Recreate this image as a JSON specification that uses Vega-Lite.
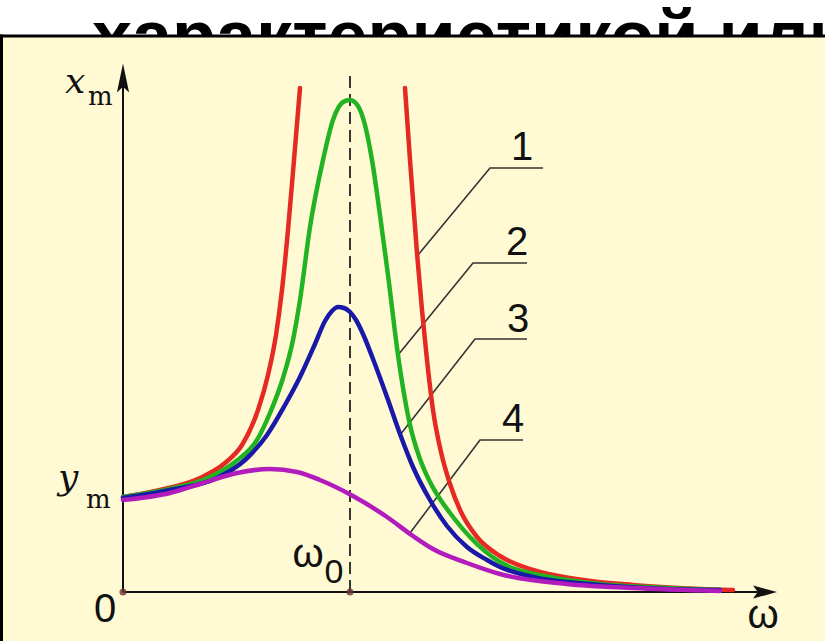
{
  "$schema": "https://vega.github.io/schema/vega-lite/v6.json",
  "width": 825,
  "height": 641,
  "autosize": {"type": "none"},
  "padding": 0,
  "background": "white",
  "config": {"view": {"stroke": null}},
  "datasets": {
    "title": [{"t": "характеристикой или", "omega": -31, "amp": 531}],
    "panel": [{"x1": -121, "x2": 702, "y1": 556, "y2": -49}],
    "border": [
      {"id": "top", "omega": -121.5, "amp": 556},
      {"id": "top", "omega": 700.5, "amp": 556},
      {"id": "left", "omega": -121.5, "amp": 556},
      {"id": "left", "omega": -121.5, "amp": -49}
    ],
    "curves": [
      {"curve": "1", "seg": "1a", "omega": 0, "amp": 95},
      {"curve": "1", "seg": "1a", "omega": 37, "amp": 102},
      {"curve": "1", "seg": "1a", "omega": 77, "amp": 114},
      {"curve": "1", "seg": "1a", "omega": 102, "amp": 129},
      {"curve": "1", "seg": "1a", "omega": 119, "amp": 147},
      {"curve": "1", "seg": "1a", "omega": 135, "amp": 182},
      {"curve": "1", "seg": "1a", "omega": 145, "amp": 217},
      {"curve": "1", "seg": "1a", "omega": 153, "amp": 257},
      {"curve": "1", "seg": "1a", "omega": 159, "amp": 302},
      {"curve": "1", "seg": "1a", "omega": 165, "amp": 362},
      {"curve": "1", "seg": "1a", "omega": 171, "amp": 432},
      {"curve": "1", "seg": "1a", "omega": 177, "amp": 504},
      {"curve": "1", "seg": "1b", "omega": 282, "amp": 504},
      {"curve": "1", "seg": "1b", "omega": 287, "amp": 432},
      {"curve": "1", "seg": "1b", "omega": 294, "amp": 339},
      {"curve": "1", "seg": "1b", "omega": 299, "amp": 282},
      {"curve": "1", "seg": "1b", "omega": 304, "amp": 232},
      {"curve": "1", "seg": "1b", "omega": 310, "amp": 182},
      {"curve": "1", "seg": "1b", "omega": 318, "amp": 140},
      {"curve": "1", "seg": "1b", "omega": 327, "amp": 108},
      {"curve": "1", "seg": "1b", "omega": 338, "amp": 80},
      {"curve": "1", "seg": "1b", "omega": 354, "amp": 55},
      {"curve": "1", "seg": "1b", "omega": 377, "amp": 36},
      {"curve": "1", "seg": "1b", "omega": 410, "amp": 22},
      {"curve": "1", "seg": "1b", "omega": 460, "amp": 12},
      {"curve": "1", "seg": "1b", "omega": 510, "amp": 7},
      {"curve": "1", "seg": "1b", "omega": 577, "amp": 3},
      {"curve": "1", "seg": "1b", "omega": 610, "amp": 2},
      {"curve": "2", "seg": "2", "omega": 0, "amp": 95},
      {"curve": "2", "seg": "2", "omega": 42, "amp": 102},
      {"curve": "2", "seg": "2", "omega": 87, "amp": 115},
      {"curve": "2", "seg": "2", "omega": 112, "amp": 130},
      {"curve": "2", "seg": "2", "omega": 134, "amp": 152},
      {"curve": "2", "seg": "2", "omega": 147, "amp": 179},
      {"curve": "2", "seg": "2", "omega": 160, "amp": 214},
      {"curve": "2", "seg": "2", "omega": 170, "amp": 252},
      {"curve": "2", "seg": "2", "omega": 177, "amp": 292},
      {"curve": "2", "seg": "2", "omega": 187, "amp": 365},
      {"curve": "2", "seg": "2", "omega": 200, "amp": 432},
      {"curve": "2", "seg": "2", "omega": 210, "amp": 472},
      {"curve": "2", "seg": "2", "omega": 220, "amp": 490},
      {"curve": "2", "seg": "2", "omega": 227, "amp": 492},
      {"curve": "2", "seg": "2", "omega": 235, "amp": 486},
      {"curve": "2", "seg": "2", "omega": 242, "amp": 467},
      {"curve": "2", "seg": "2", "omega": 249, "amp": 432},
      {"curve": "2", "seg": "2", "omega": 257, "amp": 377},
      {"curve": "2", "seg": "2", "omega": 265, "amp": 317},
      {"curve": "2", "seg": "2", "omega": 275, "amp": 237},
      {"curve": "2", "seg": "2", "omega": 287, "amp": 167},
      {"curve": "2", "seg": "2", "omega": 297, "amp": 133},
      {"curve": "2", "seg": "2", "omega": 307, "amp": 110},
      {"curve": "2", "seg": "2", "omega": 317, "amp": 93},
      {"curve": "2", "seg": "2", "omega": 327, "amp": 79},
      {"curve": "2", "seg": "2", "omega": 347, "amp": 55},
      {"curve": "2", "seg": "2", "omega": 377, "amp": 30},
      {"curve": "2", "seg": "2", "omega": 427, "amp": 15},
      {"curve": "2", "seg": "2", "omega": 477, "amp": 8},
      {"curve": "2", "seg": "2", "omega": 544, "amp": 4},
      {"curve": "2", "seg": "2", "omega": 597, "amp": 2},
      {"curve": "3", "seg": "3", "omega": 0, "amp": 94},
      {"curve": "3", "seg": "3", "omega": 47, "amp": 102},
      {"curve": "3", "seg": "3", "omega": 94, "amp": 114},
      {"curve": "3", "seg": "3", "omega": 122, "amp": 132},
      {"curve": "3", "seg": "3", "omega": 144, "amp": 157},
      {"curve": "3", "seg": "3", "omega": 162, "amp": 187},
      {"curve": "3", "seg": "3", "omega": 177, "amp": 215},
      {"curve": "3", "seg": "3", "omega": 192, "amp": 248},
      {"curve": "3", "seg": "3", "omega": 202, "amp": 271},
      {"curve": "3", "seg": "3", "omega": 209, "amp": 281},
      {"curve": "3", "seg": "3", "omega": 215, "amp": 285},
      {"curve": "3", "seg": "3", "omega": 221, "amp": 284},
      {"curve": "3", "seg": "3", "omega": 227, "amp": 280},
      {"curve": "3", "seg": "3", "omega": 233, "amp": 272},
      {"curve": "3", "seg": "3", "omega": 240, "amp": 258},
      {"curve": "3", "seg": "3", "omega": 250, "amp": 233},
      {"curve": "3", "seg": "3", "omega": 264, "amp": 195},
      {"curve": "3", "seg": "3", "omega": 277, "amp": 158},
      {"curve": "3", "seg": "3", "omega": 290, "amp": 125},
      {"curve": "3", "seg": "3", "omega": 307, "amp": 92},
      {"curve": "3", "seg": "3", "omega": 324, "amp": 66},
      {"curve": "3", "seg": "3", "omega": 344, "amp": 45},
      {"curve": "3", "seg": "3", "omega": 364, "amp": 32},
      {"curve": "3", "seg": "3", "omega": 377, "amp": 25},
      {"curve": "3", "seg": "3", "omega": 410, "amp": 15},
      {"curve": "3", "seg": "3", "omega": 477, "amp": 7},
      {"curve": "3", "seg": "3", "omega": 544, "amp": 3},
      {"curve": "3", "seg": "3", "omega": 597, "amp": 2},
      {"curve": "4", "seg": "4", "omega": 0, "amp": 92},
      {"curve": "4", "seg": "4", "omega": 47, "amp": 99},
      {"curve": "4", "seg": "4", "omega": 80, "amp": 109},
      {"curve": "4", "seg": "4", "omega": 114, "amp": 119},
      {"curve": "4", "seg": "4", "omega": 147, "amp": 123},
      {"curve": "4", "seg": "4", "omega": 174, "amp": 120},
      {"curve": "4", "seg": "4", "omega": 197, "amp": 112},
      {"curve": "4", "seg": "4", "omega": 230, "amp": 96},
      {"curve": "4", "seg": "4", "omega": 264, "amp": 75},
      {"curve": "4", "seg": "4", "omega": 290, "amp": 56},
      {"curve": "4", "seg": "4", "omega": 310, "amp": 43},
      {"curve": "4", "seg": "4", "omega": 344, "amp": 29},
      {"curve": "4", "seg": "4", "omega": 377, "amp": 18},
      {"curve": "4", "seg": "4", "omega": 444, "amp": 8},
      {"curve": "4", "seg": "4", "omega": 510, "amp": 4},
      {"curve": "4", "seg": "4", "omega": 597, "amp": 1}
    ],
    "leaders": [
      {"id": "1", "k": 1, "omega": 420, "amp": 424},
      {"id": "1", "k": 2, "omega": 367, "amp": 424},
      {"id": "1", "k": 3, "omega": 295, "amp": 337},
      {"id": "2", "k": 1, "omega": 404, "amp": 329},
      {"id": "2", "k": 2, "omega": 350, "amp": 329},
      {"id": "2", "k": 3, "omega": 275, "amp": 237},
      {"id": "3", "k": 1, "omega": 404, "amp": 253},
      {"id": "3", "k": 2, "omega": 352, "amp": 253},
      {"id": "3", "k": 3, "omega": 277, "amp": 157},
      {"id": "4", "k": 1, "omega": 400, "amp": 152},
      {"id": "4", "k": 2, "omega": 357, "amp": 152},
      {"id": "4", "k": 3, "omega": 287, "amp": 59}
    ],
    "numbers": [
      {"t": "1", "omega": 399, "amp": 432},
      {"t": "2", "omega": 394, "amp": 337},
      {"t": "3", "omega": 395, "amp": 260},
      {"t": "4", "omega": 390, "amp": 160}
    ],
    "vars": [
      {"t": "x", "omega": -58, "amp": 499},
      {"t": "y", "omega": -65, "amp": 103}
    ],
    "subs": [
      {"t": "m", "omega": -35, "amp": 487},
      {"t": "m", "omega": -37, "amp": 84}
    ],
    "plain": [
      {"t": "0", "omega": -18, "amp": -30},
      {"t": "ω", "omega": 640, "amp": -36},
      {"t": "ω", "omega": 185, "amp": 25}
    ],
    "plainsub": [
      {"t": "0", "omega": 211, "amp": 9}
    ],
    "axes": [
      {"id": "y", "omega": 0, "amp": 0},
      {"id": "y", "omega": 0, "amp": 512},
      {"id": "x", "omega": 0, "amp": 0},
      {"id": "x", "omega": 642, "amp": 0}
    ],
    "arrowY": [{"omega": 0, "amp": 514}],
    "arrowX": [{"omega": 642, "amp": 0}],
    "dash": [
      {"omega": 227, "amp": 0},
      {"omega": 227, "amp": 522}
    ],
    "dots": [
      {"omega": 0, "amp": 0},
      {"omega": 227, "amp": 0}
    ]
  },
  "layer": [
    {
      "data": {"name": "title"},
      "mark": {"type": "text", "font": "Liberation Sans", "fontWeight": "bold", "fontSize": 72, "align": "left", "baseline": "alphabetic", "color": "#000000", "clip": true},
      "encoding": {
        "x": {"field": "omega", "type": "quantitative", "scale": {"domain": [-123, 702], "nice": false, "zero": false}, "axis": null},
        "y": {"field": "amp", "type": "quantitative", "scale": {"domain": [-49, 592], "nice": false, "zero": false}, "axis": null},
        "text": {"field": "t"}
      }
    },
    {
      "data": {"name": "panel"},
      "mark": {"type": "rect", "fill": "#FFFAD3", "stroke": null},
      "encoding": {
        "x": {"field": "x1", "type": "quantitative", "scale": {"domain": [-123, 702], "nice": false, "zero": false}, "axis": null},
        "x2": {"field": "x2"},
        "y": {"field": "y1", "type": "quantitative", "scale": {"domain": [-49, 592], "nice": false, "zero": false}, "axis": null},
        "y2": {"field": "y2"}
      }
    },
    {
      "data": {"name": "border"},
      "mark": {"type": "line", "color": "#000000", "strokeWidth": 3, "strokeCap": "square"},
      "encoding": {
        "x": {"field": "omega", "type": "quantitative", "scale": {"domain": [-123, 702], "nice": false, "zero": false}, "axis": null},
        "y": {"field": "amp", "type": "quantitative", "scale": {"domain": [-49, 592], "nice": false, "zero": false}, "axis": null},
        "detail": {"field": "id"}
      }
    },
    {
      "data": {"name": "axes"},
      "mark": {"type": "line", "color": "#111111", "strokeWidth": 2},
      "encoding": {
        "x": {"field": "omega", "type": "quantitative", "scale": {"domain": [-123, 702], "nice": false, "zero": false}, "axis": null},
        "y": {"field": "amp", "type": "quantitative", "scale": {"domain": [-49, 592], "nice": false, "zero": false}, "axis": null},
        "detail": {"field": "id"}
      }
    },
    {
      "data": {"name": "arrowY"},
      "mark": {"type": "point", "shape": "M0,-1L0.42,1L0,0.6L-0.42,1Z", "size": 841, "filled": true, "color": "#111111", "opacity": 1},
      "encoding": {
        "x": {"field": "omega", "type": "quantitative", "scale": {"domain": [-123, 702], "nice": false, "zero": false}, "axis": null},
        "y": {"field": "amp", "type": "quantitative", "scale": {"domain": [-49, 592], "nice": false, "zero": false}, "axis": null}
      }
    },
    {
      "data": {"name": "arrowX"},
      "mark": {"type": "point", "shape": "M1,0L-1,-0.55L-0.6,0L-1,0.55Z", "size": 576, "filled": true, "color": "#111111", "opacity": 1},
      "encoding": {
        "x": {"field": "omega", "type": "quantitative", "scale": {"domain": [-123, 702], "nice": false, "zero": false}, "axis": null},
        "y": {"field": "amp", "type": "quantitative", "scale": {"domain": [-49, 592], "nice": false, "zero": false}, "axis": null}
      }
    },
    {
      "data": {"name": "dash"},
      "mark": {"type": "line", "color": "#222222", "strokeWidth": 1.8, "strokeDash": [12, 6]},
      "encoding": {
        "x": {"field": "omega", "type": "quantitative", "scale": {"domain": [-123, 702], "nice": false, "zero": false}, "axis": null},
        "y": {"field": "amp", "type": "quantitative", "scale": {"domain": [-49, 592], "nice": false, "zero": false}, "axis": null},
        "order": {"field": "amp"}
      }
    },
    {
      "data": {"name": "dots"},
      "mark": {"type": "point", "shape": "circle", "size": 50, "filled": true, "color": "#6B3535", "opacity": 0.8},
      "encoding": {
        "x": {"field": "omega", "type": "quantitative", "scale": {"domain": [-123, 702], "nice": false, "zero": false}, "axis": null},
        "y": {"field": "amp", "type": "quantitative", "scale": {"domain": [-49, 592], "nice": false, "zero": false}, "axis": null}
      }
    },
    {
      "data": {"name": "leaders"},
      "mark": {"type": "line", "color": "#333333", "strokeWidth": 1.6},
      "encoding": {
        "x": {"field": "omega", "type": "quantitative", "scale": {"domain": [-123, 702], "nice": false, "zero": false}, "axis": null},
        "y": {"field": "amp", "type": "quantitative", "scale": {"domain": [-49, 592], "nice": false, "zero": false}, "axis": null},
        "detail": {"field": "id"},
        "order": {"field": "k"}
      }
    },
    {
      "data": {"name": "curves"},
      "mark": {"type": "line", "strokeWidth": 4.5, "interpolate": "monotone", "strokeCap": "round"},
      "encoding": {
        "x": {"field": "omega", "type": "quantitative", "scale": {"domain": [-123, 702], "nice": false, "zero": false}, "axis": null},
        "y": {"field": "amp", "type": "quantitative", "scale": {"domain": [-49, 592], "nice": false, "zero": false}, "axis": null},
        "color": {"field": "curve", "type": "nominal", "scale": {"domain": ["1", "2", "3", "4"], "range": ["#E42A22", "#22B322", "#1A18A8", "#B21CBC"]}, "legend": null},
        "detail": {"field": "seg"}
      }
    },
    {
      "data": {"name": "numbers"},
      "mark": {"type": "text", "font": "Liberation Sans", "fontSize": 40, "align": "center", "baseline": "alphabetic", "color": "#111111"},
      "encoding": {
        "x": {"field": "omega", "type": "quantitative", "scale": {"domain": [-123, 702], "nice": false, "zero": false}, "axis": null},
        "y": {"field": "amp", "type": "quantitative", "scale": {"domain": [-49, 592], "nice": false, "zero": false}, "axis": null},
        "text": {"field": "t"}
      }
    },
    {
      "data": {"name": "vars"},
      "mark": {"type": "text", "font": "DejaVu Serif", "fontStyle": "italic", "fontSize": 36, "align": "left", "baseline": "alphabetic", "color": "#111111"},
      "encoding": {
        "x": {"field": "omega", "type": "quantitative", "scale": {"domain": [-123, 702], "nice": false, "zero": false}, "axis": null},
        "y": {"field": "amp", "type": "quantitative", "scale": {"domain": [-49, 592], "nice": false, "zero": false}, "axis": null},
        "text": {"field": "t"}
      }
    },
    {
      "data": {"name": "subs"},
      "mark": {"type": "text", "font": "DejaVu Serif", "fontSize": 26, "align": "left", "baseline": "alphabetic", "color": "#111111"},
      "encoding": {
        "x": {"field": "omega", "type": "quantitative", "scale": {"domain": [-123, 702], "nice": false, "zero": false}, "axis": null},
        "y": {"field": "amp", "type": "quantitative", "scale": {"domain": [-49, 592], "nice": false, "zero": false}, "axis": null},
        "text": {"field": "t"}
      }
    },
    {
      "data": {"name": "plain"},
      "mark": {"type": "text", "font": "Liberation Sans Narrow, Liberation Sans", "fontSize": 40, "align": "center", "baseline": "alphabetic", "color": "#111111"},
      "encoding": {
        "x": {"field": "omega", "type": "quantitative", "scale": {"domain": [-123, 702], "nice": false, "zero": false}, "axis": null},
        "y": {"field": "amp", "type": "quantitative", "scale": {"domain": [-49, 592], "nice": false, "zero": false}, "axis": null},
        "text": {"field": "t"}
      }
    },
    {
      "data": {"name": "plainsub"},
      "mark": {"type": "text", "font": "Liberation Sans Narrow, Liberation Sans", "fontSize": 34, "align": "center", "baseline": "alphabetic", "color": "#111111"},
      "encoding": {
        "x": {"field": "omega", "type": "quantitative", "scale": {"domain": [-123, 702], "nice": false, "zero": false}, "axis": null},
        "y": {"field": "amp", "type": "quantitative", "scale": {"domain": [-49, 592], "nice": false, "zero": false}, "axis": null},
        "text": {"field": "t"}
      }
    }
  ]
}
